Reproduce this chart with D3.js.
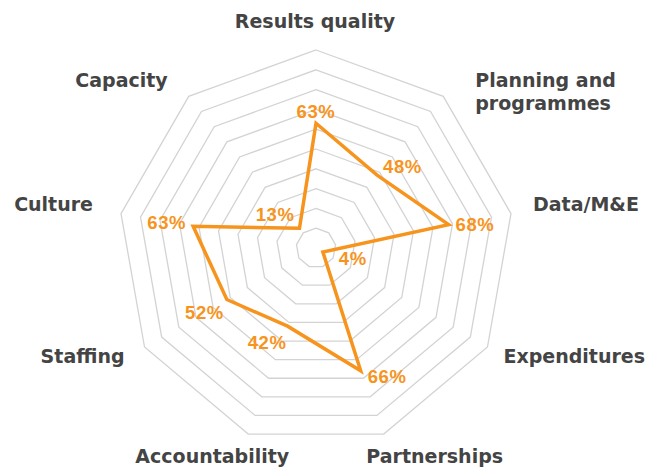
<!DOCTYPE html>
<html>
<head>
<meta charset="utf-8">
<script src="https://cdn.jsdelivr.net/npm/d3@7"></script>
<style>
  html, body { margin: 0; padding: 0; background: #fff; }
  svg text { font-family: "Liberation Sans", Arial, sans-serif; font-weight: bold; }
  svg text.cat { font-family: "DejaVu Sans", sans-serif; }
</style>
</head>
<body>
<script>
// categories, clockwise from the top
let categories = ["Results quality", "Planning and programmes", "Data/M&E", "Expenditures",
                  "Partnerships", "Accountability", "Staffing", "Culture", "Capacity"];
let values = [63, 48, 68, 4, 66, 42, 52, 63, 13];
let rings = [10, 20, 30, 40, 50, 60, 70, 80, 90, 100];

let w = 665, h = 473,
    cx = 316, cy = 248,
    R = 198;

// hand placed label nudges (px), like the original artwork
let catPlace = [
  ["middle", -1, -22], ["start", 32, -9], ["start", 22, -3],
  ["start", 16, 16], ["middle", 51, 29], ["middle", -36, 29],
  ["end", -20, 16], ["end", -28, -3], ["end", -21, -9]
];
let valPlace = [
  ["middle", 0, -5], ["start", 6, -2], ["start", 7, 6],
  ["start", 16, 13], ["start", 7, 12], ["end", -1, 23],
  ["end", -3, 20], ["end", -7, 3], ["end", -5, -7]
];

let angle = d3.scaleBand().domain(categories).range([0, 2 * Math.PI]).align(0);
let r = d3.scaleLinear().domain([0, 100]).range([0, R]);

function pt(cat, v) {
  let a = angle(cat);
  return [cx + Math.sin(a) * r(v), cy - Math.cos(a) * r(v)];
}

let svg = d3.select("body").append("svg").attr("width", w).attr("height", h);

// grid rings
let ring = d3.line();
svg.append("g").selectAll("path")
  .data(rings).enter().append("path")
  .attr("d", function(v){ return ring(categories.map(c => pt(c, v))) + "Z"; })
  .attr("fill", "none")
  .attr("stroke", "#d3d3d3")
  .attr("stroke-width", 1.3);

// the data shape
svg.append("path")
  .attr("d", ring(categories.map((c, i) => pt(c, values[i]))) + "Z")
  .attr("fill", "none")
  .attr("stroke", "#f7941d")
  .attr("stroke-width", 3.5)
  .attr("stroke-linejoin", "miter");

// value labels
svg.append("g").selectAll("text")
  .data(categories).enter().append("text")
  .attr("x", (c, i) => pt(c, values[i])[0] + valPlace[i][1])
  .attr("y", (c, i) => pt(c, values[i])[1] + valPlace[i][2])
  .attr("text-anchor", (c, i) => valPlace[i][0])
  .attr("fill", "#f7941d")
  .style("font-size", "18.5px")
  .style("letter-spacing", "0.6px")
  .text((c, i) => values[i] + "%");

// category labels
let cats = svg.append("g").selectAll("text")
  .data(categories).enter().append("text")
  .attr("class", "cat")
  .attr("x", (c, i) => pt(c, 100)[0] + catPlace[i][1])
  .attr("y", (c, i) => pt(c, 100)[1] + catPlace[i][2])
  .attr("text-anchor", (c, i) => catPlace[i][0])
  .attr("fill", "#444")
  .style("font-size", "19px");

cats.each(function(c) {
  let t = d3.select(this);
  let lines = c == "Planning and programmes" ? ["Planning and", "programmes"] : [c];
  lines.forEach(function(l, k) {
    t.append("tspan")
      .attr("x", t.attr("x"))
      .attr("dy", k ? 23 : 0)
      .text(l);
  });
});
</script>
</body>
</html>
